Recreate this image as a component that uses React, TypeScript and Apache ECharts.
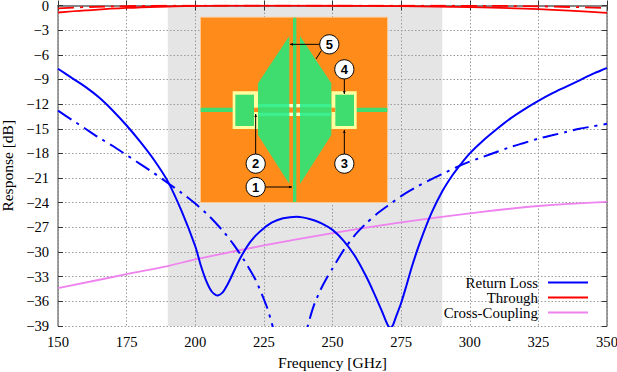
import React, { useEffect, useRef } from "react";
import * as echarts from "echarts";

const FONT = '"Liberation Serif", serif';

const returnLossFreq = [150, 155, 160, 165, 170, 175, 180, 185, 190, 195, 200, 202, 204, 206, 208, 210, 212, 214, 216, 218, 220, 222, 225, 228, 232, 237, 242, 246, 250, 254, 258, 262, 265, 268, 270, 271, 272, 273, 275, 277, 279, 282, 286, 290, 294, 297, 300, 305, 310, 315, 320, 325, 330, 335, 340, 345, 350];
const returnLossDb = [-7.7, -8.8, -9.9, -11.2, -12.8, -14.6, -16.6, -18.8, -21.4, -25, -29.3, -31.6, -33.5, -34.8, -35.3, -34.9, -33.8, -32.4, -31, -29.8, -28.8, -28, -27.1, -26.4, -25.9, -25.7, -26, -26.5, -27.3, -28.6, -30.4, -32.8, -34.9, -37.2, -38.8, -39.2, -38.9, -38, -36.2, -34, -31.7, -28.7, -25.3, -22.6, -20.5, -19.2, -18, -16.4, -15, -13.7, -12.6, -11.6, -10.7, -9.9, -9.1, -8.3, -7.6];

const returnLossAltFreq = [150, 155, 160, 165, 170, 175, 180, 185, 190, 195, 200, 205, 210, 214, 218, 222, 226, 228, 230, 232, 234.5, 237, 239, 241, 243, 245.5, 248, 250, 254, 258, 262, 266, 270, 275, 280, 285, 290, 295, 300, 305, 310, 315, 320, 325, 330, 335, 340, 345, 350];
const returnLossAltDb = [-12.8, -13.9, -15, -16.1, -17.1, -18.2, -19.3, -20.4, -21.6, -22.8, -24.1, -25.6, -27.4, -29.1, -31.1, -33.4, -36.6, -38.8, -41.5, -44.5, -47.5, -45, -42, -39, -36.7, -34.7, -33.1, -32, -29.8, -28, -26.6, -25.4, -24.4, -23.2, -22.2, -21.3, -20.5, -19.7, -19, -18.4, -17.8, -17.2, -16.7, -16.2, -15.8, -15.4, -15, -14.7, -14.4];

const throughFreq = [150, 160, 175, 190, 200, 225, 250, 275, 300, 325, 350];
const throughDb = [-0.85, -0.6, -0.3, -0.12, -0.04, -0.02, -0.03, -0.08, -0.2, -0.45, -0.9];
const throughAltDb = [-0.35, -0.2, -0.08, -0.03, -0.02, -0.01, -0.01, -0.02, -0.04, -0.1, -0.3];

const crossFreq = [150, 175, 190, 200, 225, 250, 275, 300, 325, 350];
const crossDb = [-34.4, -32.7, -31.7, -30.9, -29.2, -27.7, -26.4, -25.3, -24.4, -23.9];

const bandRange = [190, 290];
const legendNames = ["Return Loss", "Through", "Cross-Coupling"];
const legendTops = [276, 291, 306];

const zip = (xs: number[], ys: number[]) => xs.map((x, i) => [x, ys[i]]);
const minus = (v: number) => String(v).replace("-", "\u2212");

const X = (v: number) => 190 + v / 3;
const Y = (v: number) => v / 3;
const Z = 6;
const box = (x0: number, y0: number, x1: number, y1: number, fill: string) => ({
  type: "rect", z: Z, silent: true,
  shape: { x: X(x0), y: Y(y0), width: (x1 - x0) / 3, height: (y1 - y0) / 3 },
  style: { fill },
});
const poly = (pts: number[][], fill: string) => ({
  type: "polygon", z: Z, silent: true,
  shape: { points: pts.map(([a, b]) => [X(a), Y(b)]) },
  style: { fill },
});
const seg = (a: number, b: number, c: number, d: number) => ({
  type: "line", z: Z, silent: true,
  shape: { x1: X(a), y1: Y(b), x2: X(c), y2: Y(d) },
  style: { stroke: "#000", lineWidth: 1 },
});
const arrow = (a: number, b: number, c: number, d: number) => {
  const l = Math.hypot(c - a, d - b), ux = (c - a) / l, uy = (d - b) / l;
  return [
    seg(a, b, c, d),
    poly([[c, d], [c - ux * 9 - uy * 4, d - uy * 9 + ux * 4], [c - ux * 9 + uy * 4, d - uy * 9 - ux * 4]], "#000"),
  ];
};
const bubble = (cx: number, cy: number, label: string) => [
  {
    type: "circle", z: Z, silent: true,
    shape: { cx: X(cx), cy: Y(cy), r: 9.6 },
    style: { fill: "#fff", stroke: "#000", lineWidth: 1 },
  },
  {
    type: "text", z: Z, silent: true,
    x: X(cx), y: Y(cy),
    style: {
      text: label, align: "center", verticalAlign: "middle",
      font: 'bold 13px "Liberation Sans", sans-serif', fill: "#000",
    },
  },
];

const ORANGE = "#ff8c1a";
const GREEN = "#3fdc70";
const SLOT = "#3cf08f";
const YELLOW = "#ffffa0";
const PALE = "#ffffc8";

const inset = [
  box(30, 50, 594, 609, "#ffc890"),
  box(33, 53, 591, 606, ORANGE),
  box(32, 323, 592, 336, GREEN),
  box(128, 274, 204, 387, YELLOW),
  box(424, 274, 500, 387, YELLOW),
  box(192, 323, 204, 336, ORANGE),
  box(424, 323, 436, 336, ORANGE),
  box(136, 284, 192, 378, GREEN),
  box(436, 284, 492, 378, GREEN),
  poly([[298, 108], [298, 552], [204, 405], [204, 250]], GREEN),
  poly([[330, 108], [424, 250], [424, 405], [330, 552]], GREEN),
  box(204, 312, 424, 322, SLOT),
  box(204, 338, 424, 348, SLOT),
  box(298, 322, 330, 338, ORANGE),
  box(298, 312, 330, 322, PALE),
  box(298, 338, 330, 348, PALE),
  box(309, 53, 319, 606, GREEN),
  ...arrow(226, 561, 306, 561),
  ...arrow(197, 462, 197, 342),
  ...arrow(463, 462, 463, 390),
  ...arrow(463, 237, 463, 282),
  ...arrow(390, 133, 300, 133),
  seg(394, 152, 378, 177),
  ...bubble(197, 561, "1"),
  ...bubble(197, 491, "2"),
  ...bubble(463, 491, "3"),
  ...bubble(463, 208, "4"),
  ...bubble(418, 133, "5"),
];

const DASHDOT = [16, 6, 3, 6];
const BLUE = "#0000ff";
const RED = "#ff0000";
const VIOLET = "#ee82ee";
const common = { type: "line", showSymbol: false, symbol: "none", z: 10, clip: true, silent: true, smooth: 0.25 };

const tickStyle = { show: true, inside: true, length: 5, lineStyle: { color: "#333", width: 1 } };
const axisLine = { show: true, lineStyle: { color: "#808080", width: 1.5 } };
const gridLine = { show: true, lineStyle: { color: "#9a9a9a", width: 1, type: [1.5, 2] } };
const labelStyle = { color: "#000", fontFamily: FONT, fontSize: 14.6 };
const nameStyle = { color: "#000", fontFamily: FONT, fontSize: 15.5 };

export default function App() {
  const ref = useRef<HTMLDivElement>(null);
  useEffect(() => {
    const chart = echarts.init(ref.current!, undefined, { renderer: "svg" });
    chart.setOption({
      animation: false,
      backgroundColor: "#fff",
      textStyle: { fontFamily: FONT },
      grid: { left: 58, top: 5.5, width: 549, height: 320.5, containLabel: false, outerBoundsMode: "none" },
      legend: legendNames.map((name, i) => ({
        data: [name],
        right: 29,
        top: legendTops[i] - 1,
        padding: 0,
        align: "right",
        orient: "vertical",
        icon: "rect",
        itemWidth: 40,
        itemHeight: 2,
        selectedMode: false,
        textStyle: { color: "#000", fontFamily: FONT, fontSize: 14.9, lineHeight: 14, padding: [0, 5, 0, 0] },
      })),
      xAxis: [
        {
          type: "value", min: 150, max: 350, interval: 25, z: 5,
          name: "Frequency [GHz]", nameLocation: "middle", nameGap: 28,
          nameTextStyle: nameStyle,
          axisLine, axisTick: tickStyle, splitLine: gridLine,
          axisLabel: { ...labelStyle, margin: 8, showMinLabel: true, showMaxLabel: true },
        },
        {
          type: "value", position: "top", min: 150, max: 350, interval: 25, z: 5,
          axisLine, axisTick: tickStyle, splitLine: { show: false }, axisLabel: { show: false },
        },
      ],
      yAxis: [
        {
          type: "value", min: -39, max: 0, interval: 3, z: 5,
          name: "Response [dB]", nameLocation: "middle", nameGap: 41, nameRotate: 90,
          nameTextStyle: nameStyle,
          axisLine, axisTick: tickStyle, splitLine: gridLine,
          axisLabel: { ...labelStyle, margin: 9, formatter: minus, showMinLabel: true, showMaxLabel: true },
        },
        {
          type: "value", position: "right", min: -39, max: 0, interval: 3, z: 5,
          axisLine, axisTick: tickStyle, splitLine: { show: false }, axisLabel: { show: false },
        },
      ],
      series: [
        {
          ...common, name: "Cross-Coupling", data: zip(crossFreq, crossDb), smooth: 0.4,
          lineStyle: { color: VIOLET, width: 1.8 }, itemStyle: { color: VIOLET },
          markArea: {
            silent: true, z: 1, itemStyle: { color: "#e5e5e5" },
            data: [[{ xAxis: bandRange[0] }, { xAxis: bandRange[1] }]],
          },
        },
        {
          ...common, name: "Return Loss (alt)", data: zip(returnLossAltFreq, returnLossAltDb),
          lineStyle: { color: BLUE, width: 2, type: DASHDOT }, itemStyle: { color: BLUE },
        },
        {
          ...common, name: "Return Loss", data: zip(returnLossFreq, returnLossDb),
          lineStyle: { color: BLUE, width: 2 }, itemStyle: { color: BLUE },
        },
        {
          ...common, name: "Through (alt)", data: zip(throughFreq, throughAltDb), smooth: 0.4,
          lineStyle: { color: RED, width: 1.8, type: DASHDOT }, itemStyle: { color: RED },
        },
        {
          ...common, name: "Through", data: zip(throughFreq, throughDb), smooth: 0.4,
          lineStyle: { color: RED, width: 1.8 }, itemStyle: { color: RED },
        },
      ],
      graphic: { z: Z, elements: inset },
    });
    return () => chart.dispose();
  }, []);
  return <div ref={ref} style={{ position: "absolute", left: 0, top: 0, width: 617, height: 372 }} />;
}
